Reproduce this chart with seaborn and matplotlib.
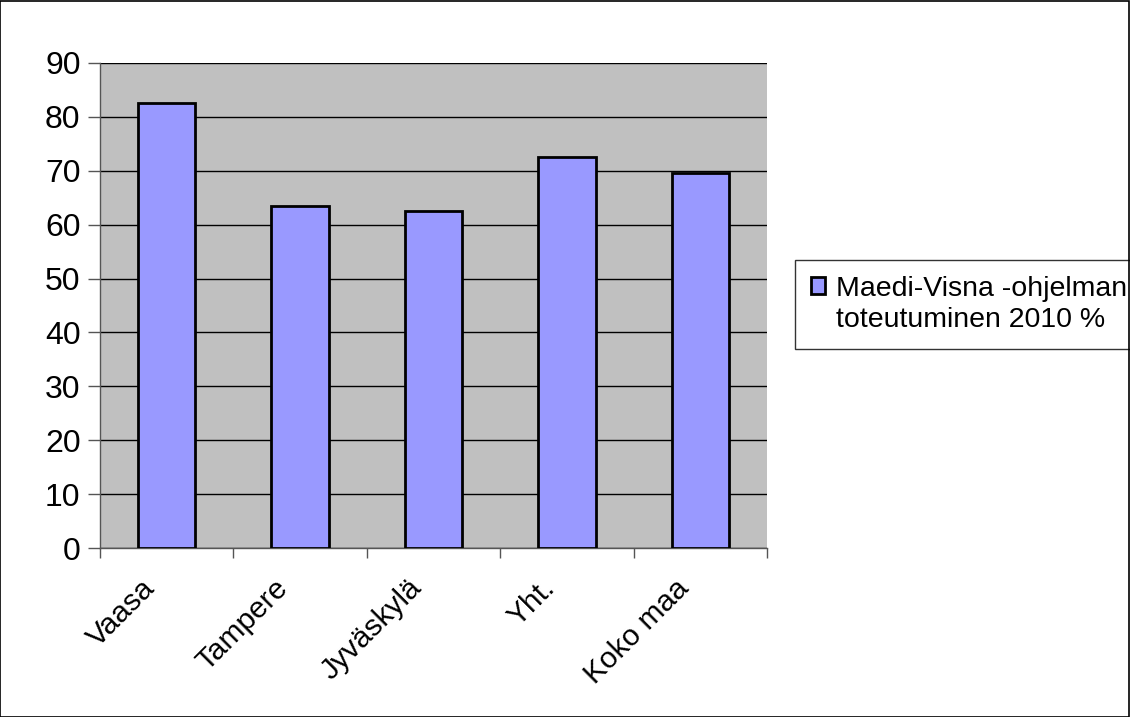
import matplotlib
matplotlib.use("Agg")
import matplotlib.pyplot as plt
import matplotlib.transforms as mtransforms
import seaborn as sns
import pandas as pd
from matplotlib.patches import Rectangle

# --- DATA ---
categories = ["Vaasa", "Tampere", "Jyväskylä", "Yht.", "Koko maa"]
values = [82.5, 63.5, 62.5, 72.5, 69.5]
series_label = "Maedi-Visna -ohjelman\ntoteutuminen 2010 %"
yticks = list(range(0, 91, 10))

BAR = "#9999FF"
BG = "#C0C0C0"

sns.set_style("white")
plt.rcParams["font.family"] = ["Liberation Sans", "DejaVu Sans"]

df = pd.DataFrame({"cat": categories, "val": values, "s": series_label})

fig = plt.figure(figsize=(11.3, 7.17), dpi=100)
ax = fig.add_axes([0.0885, 0.2357, 0.5903, 0.6765])
ax.set_facecolor(BG)

sns.barplot(data=df, x="cat", y="val", hue="s", palette=[BAR], width=0.43,
            edgecolor="black", linewidth=2, saturation=1, ax=ax, zorder=3)

ax.set_ylim(0, 90)
ax.set_xlim(-0.5, len(categories) - 0.5)
ax.set_yticks(yticks)
ax.yaxis.grid(True, color="black", linewidth=1, zorder=0)
ax.set_axisbelow(True)
ax.tick_params(axis="y", labelsize=23, labelcolor="black", length=9, width=1,
               color="#555555", direction="out", left=True, pad=5)

# ticks between categories, rotated category names under bar centres
ax.set_xticks([i - 0.5 for i in range(len(categories) + 1)])
ax.set_xticklabels([])
ax.tick_params(axis="x", which="major", length=7, width=1, color="#555555", direction="out", bottom=True)
shift = mtransforms.ScaledTranslation(-26 / 100, -26 / 100, fig.dpi_scale_trans)
for i, name in enumerate(categories):
    ax.text(i, 0, name, transform=ax.get_xaxis_transform() + shift, rotation=45,
            ha="right", va="top", rotation_mode="anchor", fontsize=21.5, color="black")

ax.set_xlabel("")
ax.set_ylabel("")
for side in ["top", "right"]:
    ax.spines[side].set_visible(False)
for side in ["left", "bottom"]:
    ax.spines[side].set_color("#555555")
    ax.spines[side].set_linewidth(1)

# legend: marker next to the first line of the label
handles, _ = ax.get_legend_handles_labels()
blank = Rectangle((0, 0), 1, 1, fill=False, edgecolor="none", linewidth=0)
leg = ax.legend([handles[0], blank], series_label.split("\n"),
                loc="upper left", bbox_to_anchor=(0.7035, 0.6374), bbox_transform=fig.transFigure,
                fontsize=20.5, frameon=True, fancybox=False, edgecolor="black", borderaxespad=0,
                handlelength=0.5, handleheight=0.5, handletextpad=0.4, borderpad=0.55,
                labelspacing=0.2)
leg.get_frame().set_linewidth(1)
for t in leg.get_texts():
    t.set_color("black")

fig.patches.append(Rectangle((0.0, 0.0), 0.999, 0.998, transform=fig.transFigure,
                             fill=False, edgecolor="black", linewidth=1.2))

fig.savefig("out.png", dpi=100)
